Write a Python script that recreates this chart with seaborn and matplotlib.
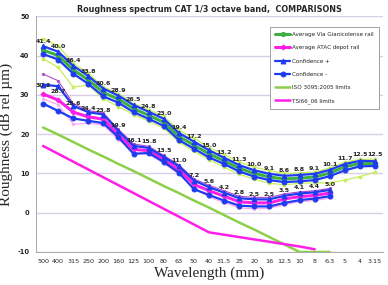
import matplotlib
matplotlib.use("Agg")
import matplotlib.pyplot as plt
import numpy as np
import seaborn as sns

# ── Data ────────────────────────────────────────────────────────────────────

wavelengths = ["500", "400", "315", "250", "200", "160", "125", "100", "80", "63",
               "50", "40", "31.5", "25", "20", "16", "12.5", "10", "8", "6.3",
               "5", "4", "3.15"]

gianicolense_avg = [41.4, 40.0, 36.4, 33.8, 30.6, 28.9, 26.5, 24.8, 23.0, 19.4,
                    17.2, 15.0, 13.2, 11.3, 10.0, 9.1, 8.6, 8.8, 9.1, 10.1,
                    11.7, 12.5, 12.5]
gianicolense_conf_hi = [42.4, 41.0, 37.4, 34.8, 31.6, 29.8, 27.4, 25.7, 23.9, 20.3,
                        18.1, 15.9, 14.0, 12.1, 10.8, 9.9, 9.4, 9.6, 9.9, 10.9,
                        12.4, 13.2, 13.1]
gianicolense_conf_lo = [40.4, 39.0, 35.4, 32.8, 29.6, 28.0, 25.6, 23.9, 22.1, 18.5,
                        16.3, 14.1, 12.4, 10.5, 9.2, 8.3, 7.8, 8.0, 8.3, 9.3,
                        10.8, 11.8, 11.9]
gianicolense_max = [44.3, 42.5, 38.0, 35.5, 32.0, 30.3, 27.8, 26.2, 24.5, 21.0,
                    19.0, 16.6, 14.8, 12.9, 11.6, 10.7, 10.0, 10.1, 10.4, 11.4,
                    12.9, 13.6, 13.6]
gianicolense_min = [39.2, 37.0, 32.0, 32.5, 29.0, 27.0, 25.0, 23.3, 21.5, 18.0,
                    15.6, 13.5, 11.6, 9.8, 8.5, 7.5, 7.1, 7.5, 7.6, 7.6,
                    8.3, 9.2, 10.3]

atac_avg = [30.2, 28.7, 25.6, 24.4, 23.8, 19.9, 16.1, 15.8, 13.5, 11.0,
            7.2, 5.6, 4.2, 2.8, 2.5, 2.5, 3.5, 4.1, 4.4, 5.0]
atac_conf_hi = [32.6, 32.2, 27.2, 25.6, 25.0, 20.8, 17.0, 16.5, 14.2, 11.8,
                8.2, 6.5, 5.1, 3.7, 3.4, 3.4, 4.3, 4.9, 5.2, 5.8]
atac_conf_lo = [27.8, 25.9, 24.0, 23.4, 22.8, 19.2, 15.0, 15.2, 12.9, 10.2,
                6.0, 4.5, 3.1, 1.8, 1.6, 1.6, 2.5, 3.2, 3.6, 4.2]
atac_max = [35.3, 33.6, 27.8, 26.0, 25.4, 21.2, 17.5, 16.9, 14.6, 12.2,
            8.6, 7.0, 5.6, 4.2, 3.9, 3.9, 4.8, 5.3, 5.6, 6.2]
atac_min = [29.0, 27.5, 22.5, 22.8, 22.3, 18.6, 15.3, 14.9, 12.6, 9.8,
            6.3, 4.0, 2.6, 1.2, 1.0, 1.1, 2.0, 2.8, 3.1, 3.7]

iso_limits = [21.7, 19.9, 18.0, 16.1, 14.3, 12.4, 10.6, 8.7, 6.8, 5.0,
              3.1, 1.3, -0.6, -2.5, -4.3, -6.2, -8.1, -10.0, -10.0, -10.0]
tsi_limits = [17.0, 15.0, 13.0, 11.0, 9.0, 7.0, 5.0, 3.0, 1.0, -1.0,
              -3.0, -5.0, -5.6, -6.2, -6.8, -7.4, -8.0, -8.6, -9.3]

GREEN = "#3cb043"
LIGHT_GREEN = "#8cd04a"
THIN_GREEN = "#c9ee5a"
MAGENTA = "#ff1ee6"
BLUE = "#1d3cf0"
THIN_PURPLE = "#b04cc8"
THIN_PINK = "#ffaaf0"

sns.set_style("white")
plt.rcParams["font.family"] = ["DejaVu Sans"]

fig = plt.figure(figsize=(3.88, 2.85), dpi=100)
ax = fig.add_axes([0.0915, 0.1158, 0.8945, 0.827])

x_all = np.arange(len(wavelengths))


def line(vals, **kw):
    sns.lineplot(x=x_all[:len(vals)], y=vals, ax=ax, sort=False, **kw)


# thin individual curves (no legend)
line(gianicolense_max, color=THIN_GREEN, lw=0.9, marker="o", ms=2, mec=THIN_GREEN)
line(gianicolense_min, color=THIN_GREEN, lw=0.9, marker="o", ms=2, mec=THIN_GREEN)
line(atac_max, color=THIN_PURPLE, lw=0.8, marker="o", ms=1.5, mec=THIN_PURPLE)
line(atac_min, color=THIN_PINK, lw=0.9, marker="o", ms=1.5, mec=THIN_PINK)

# limit curves
line(iso_limits, color=LIGHT_GREEN, lw=1.8, label="ISO 3095:2005 limits", zorder=3)
line(tsi_limits, color=MAGENTA, lw=1.8, label="TSI66_06 limits", zorder=3)

# averages
line(gianicolense_avg, color=GREEN, lw=2.2, marker="o", ms=3, mec=GREEN,
     label="Average Via Gianicolense rail", zorder=4)
line(atac_avg, color=MAGENTA, lw=2.2, marker="D", ms=2.5, mec=MAGENTA,
     label="Average ATAC depot rail", zorder=4)

# confidence bounds
line(gianicolense_conf_hi, color=BLUE, lw=1.6, marker="^", ms=3.5, mec=BLUE,
     label="Confidence +", zorder=5)
line(gianicolense_conf_lo, color=BLUE, lw=1.6, marker="o", ms=3.5, mec=BLUE,
     label="Confidence -", zorder=5)
line(atac_conf_hi, color=BLUE, lw=1.6, marker="^", ms=3.5, mec=BLUE, zorder=5)
line(atac_conf_lo, color=BLUE, lw=1.6, marker="o", ms=3.5, mec=BLUE, zorder=5)

# value labels
for xi, v in zip(x_all, gianicolense_avg):
    ax.annotate(f"{v:.1f}", (xi, v), xytext=(0, 4.5), textcoords="offset points",
                ha="center", va="bottom", fontsize=4.5, fontweight="bold",
                color="#222222", zorder=6)
for xi, v in zip(x_all, atac_avg):
    ax.annotate(f"{v:.1f}", (xi, v), xytext=(0, 4.5), textcoords="offset points",
                ha="center", va="bottom", fontsize=4.5, fontweight="bold",
                color="#222222", zorder=6)

# axes styling
ax.set_xlim(-0.5, len(wavelengths) - 0.5)
ax.set_ylim(-10, 50)
ax.set_yticks(np.arange(-10, 51, 10))
ax.set_yticklabels([str(t) for t in range(-10, 51, 10)], fontsize=4.8, fontweight="bold")
ax.set_xticks(x_all)
ax.set_xticklabels(wavelengths, fontsize=4.6)
ax.set_xticks(np.arange(-0.5, len(wavelengths), 1.0), minor=True)
ax.tick_params(axis="x", which="major", length=0, pad=5)
ax.tick_params(axis="x", which="minor", length=3, color="#999999", width=0.6)
ax.tick_params(axis="y", length=2.5, color="#999999", width=0.6, pad=2)
ax.yaxis.grid(True, color="#d6cfe6", lw=1.0)
ax.set_axisbelow(True)
for side in ("top", "right"):
    ax.spines[side].set_visible(False)
for side in ("left", "bottom"):
    ax.spines[side].set_color("#a8a8a8")
    ax.spines[side].set_linewidth(0.7)

ax.set_title("Roughness spectrum CAT 1/3 octave band,  COMPARISONS",
             fontsize=5.8, fontweight="bold", pad=3)
ax.set_ylabel("Roughness (dB rel µm)", family=["Liberation Serif"], fontsize=11, labelpad=3)
ax.set_xlabel("Wavelength (mm)", family=["Liberation Serif"], fontsize=11, labelpad=2)

handles, labels = ax.get_legend_handles_labels()
order = ["Average Via Gianicolense rail", "Average ATAC depot rail", "Confidence +",
         "Confidence -", "ISO 3095:2005 limits", "TSI66_06 limits"]
hmap = dict(zip(labels, handles))
leg = ax.legend([hmap[k] for k in order], order, loc="upper left",
                bbox_to_anchor=(0.676, 0.955), fontsize=4.1, frameon=True,
                fancybox=False, edgecolor="#a0a0a0", framealpha=1,
                handlelength=2.6, labelspacing=1.45, borderpad=0.9,
                handletextpad=0.3, borderaxespad=0)
leg.get_frame().set_linewidth(0.7)

fig.savefig("out.png", dpi=100)
plt.close(fig)
